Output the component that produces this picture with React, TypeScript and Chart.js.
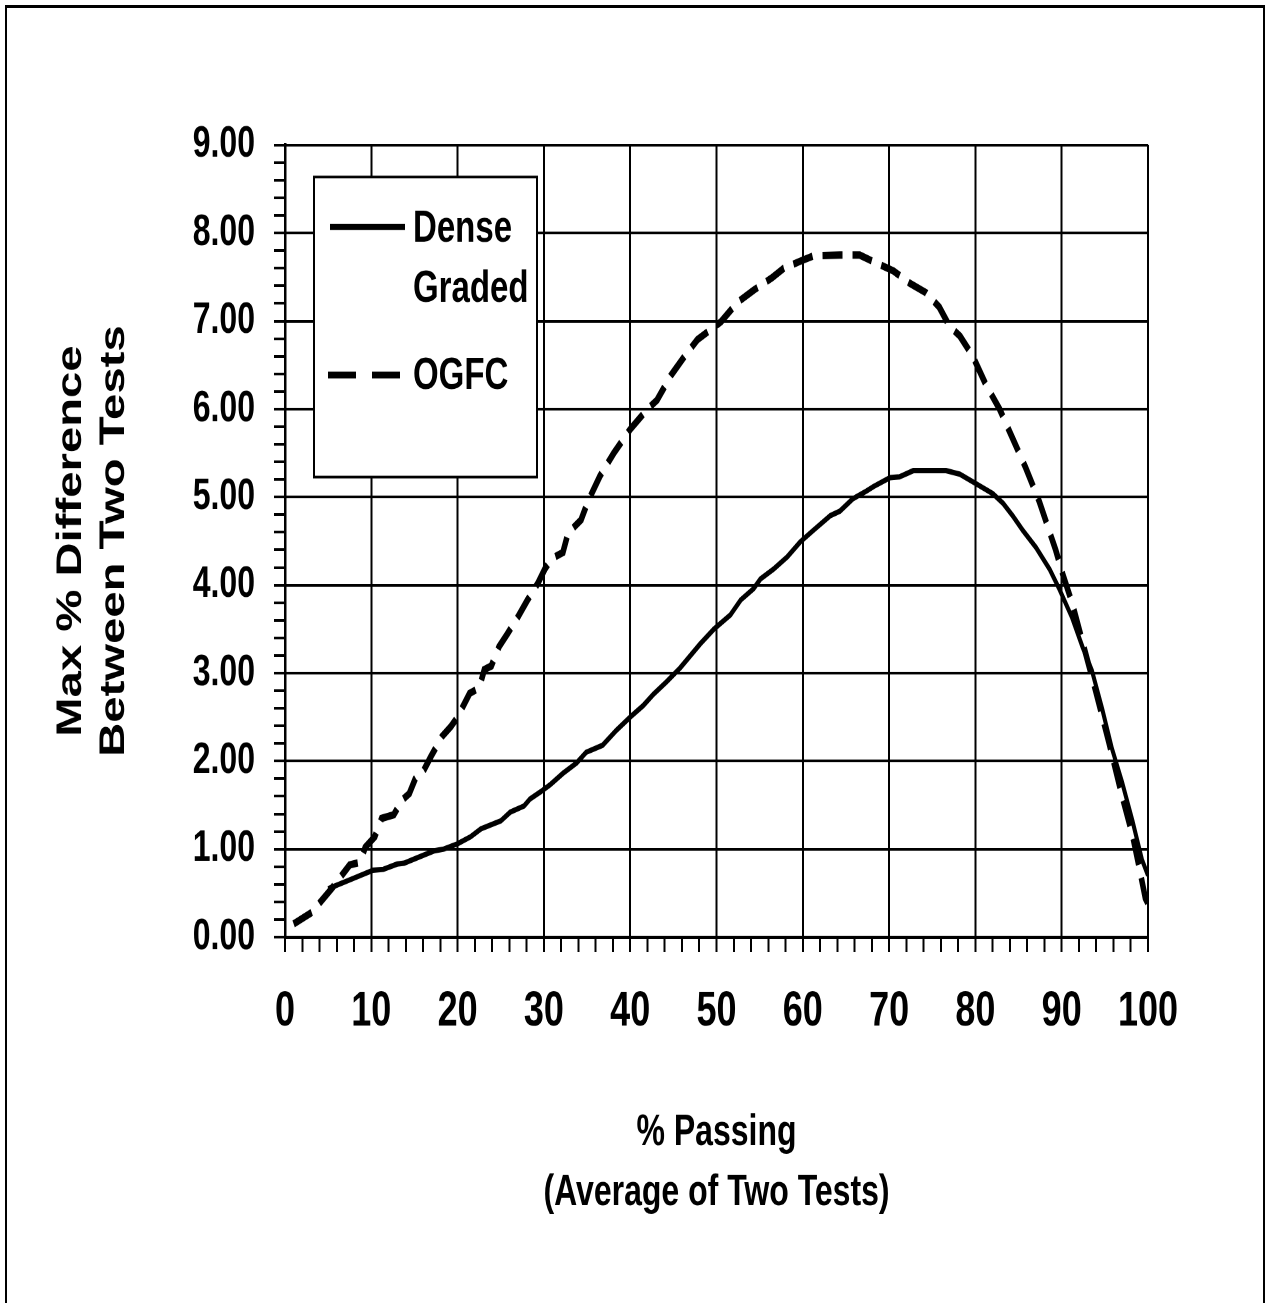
import React, { useEffect, useRef } from 'react';
import { Chart, registerables } from 'chart.js';

Chart.register(...registerables);

// ---------- data ----------
const xTickLabels = ['0', '10', '20', '30', '40', '50', '60', '70', '80', '90', '100'];
const yTickLabels = ['0.00', '1.00', '2.00', '3.00', '4.00', '5.00', '6.00', '7.00', '8.00', '9.00'];

const denseX = [5.0, 7.5, 10.2, 11.4, 13.0, 13.8, 15.3, 17.3, 18.4, 20.0, 21.5, 22.7, 25.0, 26.1, 27.7, 28.4, 29.6, 30.7, 32.2, 33.8, 34.9, 36.8, 38.4, 40.0, 41.5, 42.7, 44.2, 45.8, 48.1, 49.7, 51.6, 52.8, 54.3, 55.1, 56.6, 58.2, 59.7, 61.2, 63.2, 64.3, 65.8, 67.4, 68.2, 70.1, 71.2, 72.8, 76.6, 78.2, 80.1, 82.0, 83.2, 84.3, 85.5, 87.0, 88.6, 89.7, 91.2, 92.4, 93.5, 94.7, 95.8, 97.0, 98.2, 99.3, 100];
const denseY = [0.55, 0.65, 0.76, 0.77, 0.83, 0.84, 0.90, 0.98, 1.00, 1.06, 1.14, 1.23, 1.32, 1.42, 1.49, 1.57, 1.65, 1.73, 1.86, 1.98, 2.10, 2.18, 2.35, 2.50, 2.63, 2.76, 2.90, 3.06, 3.33, 3.50, 3.66, 3.83, 3.96, 4.07, 4.18, 4.32, 4.49, 4.62, 4.79, 4.84, 4.98, 5.07, 5.12, 5.22, 5.23, 5.30, 5.30, 5.26, 5.15, 5.04, 4.93, 4.79, 4.62, 4.43, 4.18, 3.96, 3.63, 3.30, 3.03, 2.59, 2.15, 1.76, 1.32, 0.88, 0.70];

const ogfcX = [1.0, 3.1, 5.4, 7.5, 8.7, 9.3, 10.4, 11.2, 12.6, 13.6, 14.4, 15.1, 16.1, 16.9, 18.2, 19.2, 20.0, 21.4, 22.5, 23.1, 23.9, 24.8, 25.8, 27.0, 28.1, 29.3, 30.1, 30.9, 32.2, 32.8, 34.3, 35.1, 36.5, 38.1, 40.0, 42.0, 43.1, 44.7, 46.3, 47.8, 50.5, 52.4, 54.3, 56.4, 57.8, 59.7, 61.2, 64.3, 66.6, 68.5, 70.5, 72.4, 74.3, 75.8, 77.0, 78.2, 79.7, 81.2, 82.8, 84.3, 85.8, 87.4, 89.3, 90.1, 91.2, 92.4, 93.9, 95.5, 97.0, 98.2, 98.9, 99.7, 100];
const ogfcY = [0.15, 0.28, 0.55, 0.82, 0.85, 1.02, 1.14, 1.35, 1.39, 1.56, 1.63, 1.80, 1.90, 2.05, 2.28, 2.39, 2.50, 2.77, 2.83, 3.04, 3.08, 3.30, 3.45, 3.64, 3.83, 4.02, 4.18, 4.30, 4.37, 4.59, 4.74, 4.95, 5.24, 5.50, 5.77, 6.00, 6.10, 6.38, 6.60, 6.79, 6.99, 7.21, 7.35, 7.49, 7.60, 7.68, 7.74, 7.75, 7.75, 7.66, 7.57, 7.43, 7.32, 7.16, 6.94, 6.83, 6.60, 6.28, 6.00, 5.67, 5.34, 4.95, 4.40, 4.13, 3.80, 3.36, 2.81, 2.20, 1.60, 1.16, 0.83, 0.44, 0.38];

const legendText = [['Dense', 'Graded'], ['OGFC']];
const xTitle = ['% Passing', '(Average of Two Tests)'];
const yTitle = ['Max % Difference', 'Between Two Tests'];

// ---------- layout ----------
const W = 1266;
const H = 1303;
const CH = 965; // canvas height before the vertical stretch
const SY = H / CH;
const FONT = "'Liberation Sans', Arial, sans-serif";

const toPoints = (xs: number[], ys: number[]) => xs.map((x, i) => ({ x, y: ys[i] }));

const isMajorX = (v: number) => Math.abs(v / 10 - Math.round(v / 10)) < 1e-6;
const isMajorY = (v: number) => Math.abs(v - Math.round(v)) < 1e-6;

const boxLegend = {
  id: 'boxLegend',
  afterDatasetsDraw(chart: any) {
    const { ctx, chartArea: a } = chart;
    const bx = a.left + 29;
    const by = a.top + 23.7;
    const bw = 223;
    const bh = 222.2;
    ctx.save();
    ctx.fillStyle = '#fff';
    ctx.fillRect(bx, by, bw, bh);
    ctx.lineWidth = 2;
    ctx.strokeStyle = '#000';
    ctx.strokeRect(bx, by, bw, bh);

    ctx.font = `bold 33px ${FONT}`;
    ctx.fillStyle = '#000';
    ctx.textBaseline = 'alphabetic';
    ctx.textAlign = 'left';

    // item 1: solid
    ctx.lineWidth = 4.5;
    ctx.setLineDash([]);
    ctx.beginPath();
    ctx.moveTo(bx + 16, by + 37);
    ctx.lineTo(bx + 91, by + 37);
    ctx.stroke();
    ctx.fillText(legendText[0][0], bx + 99, by + 47.9);
    ctx.fillText(legendText[0][1], bx + 99, by + 92.4);

    // item 2: dashed
    ctx.lineWidth = 5;
    ctx.setLineDash([28, 16]);
    ctx.beginPath();
    ctx.moveTo(bx + 14, by + 146.7);
    ctx.lineTo(bx + 88, by + 146.7);
    ctx.stroke();
    ctx.setLineDash([]);
    ctx.fillText(legendText[1][0], bx + 99, by + 157);
    ctx.restore();
  },
};

export default function App() {
  const ref = useRef<HTMLCanvasElement | null>(null);

  useEffect(() => {
    document.body.style.overflow = 'hidden';
    const canvas = ref.current;
    if (!canvas) return;
    const chart = new Chart(canvas, {
      type: 'line',
      data: {
        datasets: [
          {
            label: 'Dense Graded',
            data: toPoints(denseX, denseY),
            borderColor: '#000',
            borderWidth: 4,
            pointRadius: 0,
            tension: 0,
            fill: false,
          },
          {
            label: 'OGFC',
            data: toPoints(ogfcX, ogfcY),
            borderColor: '#000',
            borderWidth: 5.5,
            borderDash: [20, 10],
            pointRadius: 0,
            tension: 0,
            fill: false,
          },
        ],
      },
      options: {
        animation: false,
        responsive: false,
        devicePixelRatio: 2,
        events: [],
        layout: { padding: { top: 107.4, right: 118, bottom: 0, left: 0 } },
        plugins: {
          legend: { display: false },
          tooltip: { enabled: false },
        },
        scales: {
          x: {
            type: 'linear',
            min: 0,
            max: 100,
            afterFit: (s: any) => {
              s.height = CH - 694;
            },
            ticks: {
              stepSize: 2,
              autoSkip: false,
              maxRotation: 0,
              minRotation: 0,
              padding: 23,
              color: '#000',
              font: { family: FONT, size: 36, weight: 'bold' },
              callback: (v: any) => {
                const n = Number(v);
                return isMajorX(n) ? xTickLabels[Math.round(n / 10)] : '';
              },
            },
            grid: {
              color: (c: any) => (c.tick && isMajorX(c.tick.value) ? '#000' : 'rgba(0,0,0,0)'),
              tickColor: '#000',
              lineWidth: 2,
              tickWidth: 2,
              tickLength: 11,
            },
            border: { display: true, color: '#000', width: 2.5 },
            title: {
              display: true,
              text: xTitle,
              color: '#000',
              font: { family: FONT, size: 32, weight: 'bold', lineHeight: 1.39 },
              padding: { top: 0, bottom: 59 },
            },
          },
          y: {
            type: 'linear',
            min: 0,
            max: 9,
            afterFit: (s: any) => {
              s.width = 285;
            },
            ticks: {
              stepSize: 0.2,
              autoSkip: false,
              padding: 19,
              color: '#000',
              font: { family: FONT, size: 32, weight: 'bold' },
              callback: (v: any) => {
                const n = Number(v);
                return isMajorY(n) ? yTickLabels[Math.round(n)] : '';
              },
            },
            grid: {
              color: (c: any) => (c.tick && isMajorY(c.tick.value) ? '#000' : 'rgba(0,0,0,0)'),
              tickColor: '#000',
              lineWidth: 2,
              tickWidth: 2,
              tickLength: 11,
            },
            border: { display: true, color: '#000', width: 2.5 },
            title: {
              display: true,
              text: yTitle,
              color: '#000',
              font: { family: FONT, size: 35, weight: 'bold', lineHeight: 1.23 },
              padding: { top: 50, bottom: 0 },
            },
          },
        },
      },
      plugins: [boxLegend],
    } as any);
    return () => chart.destroy();
  }, []);

  return (
    <div style={{ position: 'absolute', left: 0, top: 0, width: W, height: H, overflow: 'hidden', background: '#fff' }}>
      <div
        style={{
          position: 'absolute',
          left: 0,
          top: 0,
          width: W,
          height: CH,
          transform: `scaleY(${SY})`,
          transformOrigin: '0 0',
        }}
      >
        <canvas ref={ref} width={W} height={CH} style={{ display: 'block', width: `${W}px`, height: `${CH}px` }} />
      </div>
      <div
        style={{
          position: 'absolute',
          left: 5,
          top: 5,
          width: 1260,
          height: 1400,
          boxSizing: 'border-box',
          borderTop: '3px solid #000',
          borderLeft: '2.5px solid #000',
          borderRight: '2.5px solid #000',
        }}
      />
    </div>
  );
}
